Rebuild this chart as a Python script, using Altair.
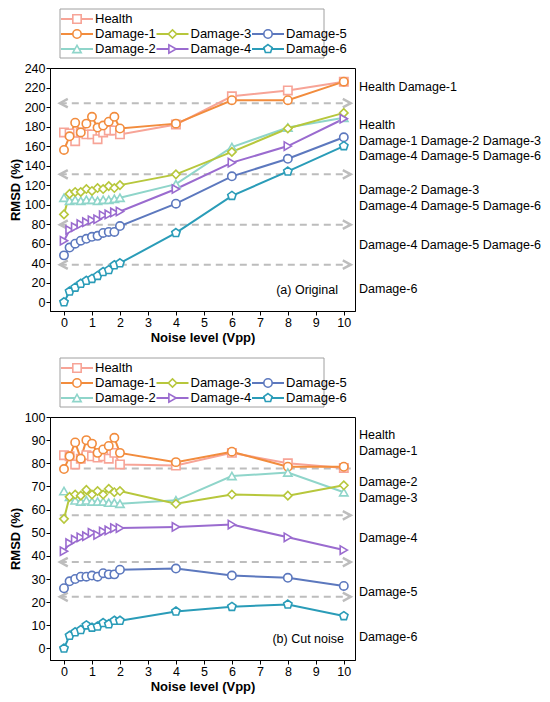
import altair as alt
import pandas as pd

# ---------------- data ----------------
NOISE = [0, 0.2, 0.4, 0.6, 0.8, 1.0, 1.2, 1.4, 1.6, 1.8, 2.0, 4, 6, 8, 10]
SERIES = ["Health", "Damage-1", "Damage-2", "Damage-3", "Damage-4", "Damage-5", "Damage-6"]

ORIG_HEALTH = [174, 173, 165, 174, 172, 172, 167, 174, 176, 176, 172, 182, 211, 217, 226]
ORIG_D1 = [156, 170, 184, 174, 183, 190, 179, 181, 185, 190, 178, 183, 207, 207, 226]
ORIG_D2 = [107, 104, 105, 104, 105, 105, 104, 105, 105, 106, 107, 121, 159, 179, 189]
ORIG_D3 = [90, 111, 113, 113, 116, 114, 117, 116, 119, 117, 120, 131, 154, 178, 194]
ORIG_D4 = [63, 74, 77, 80, 82, 84, 85, 89, 90, 92, 93, 116, 143, 160, 188]
ORIG_D5 = [48, 56, 60, 63, 65, 67, 68, 71, 72, 72, 78, 101, 129, 147, 169]
ORIG_D6 = [0, 11, 15, 19, 22, 24, 27, 31, 33, 38, 40, 71, 109, 134, 160]

CUT_HEALTH = [83.5, 83, 79.5, 82, 83.5, 83, 82.5, 83, 82, 84.5, 79.5, 79, 84.5, 80, 78]
CUT_D1 = [77.5, 83, 89, 82, 90, 88.5, 84.5, 86, 87.5, 91, 84.5, 80.5, 85, 78.5, 78.5]
CUT_D2 = [68, 65.5, 64, 63.5, 64, 63.5, 63.5, 63.5, 63, 63, 62.5, 64, 74.5, 76, 67.5]
CUT_D3 = [56, 65.5, 66.5, 66, 68.5, 66.5, 68, 66.5, 69, 67.5, 68, 62.5, 66.5, 66, 70.5]
CUT_D4 = [42, 45.5, 47, 48, 48.5, 50, 49, 50.5, 51, 52, 52, 52.5, 53.5, 48, 42.5]
CUT_D5 = [26, 29, 30, 31, 31, 31.5, 31, 32.5, 32, 32, 34, 34.5, 31.5, 30.5, 27]
CUT_D6 = [0, 5.5, 7, 8, 10, 9, 9.5, 11, 10.5, 12, 12, 16, 18, 19, 14]

X_TICKS = list(range(0, 11))
Y_TICKS_A = list(range(0, 241, 20))
Y_TICKS_B = list(range(0, 101, 10))

GUIDES_A = [204, 131, 79.5, 38.5]
GUIDES_A_LEFT = [True, True, True, True]
GUIDES_A_RIGHT = [True, True, True, True]
GUIDES_B = [77.7, 57.5, 37.3, 22.3]
GUIDES_B_LEFT = [False, False, True, True]
GUIDES_B_RIGHT = [False, True, True, True]

NOTES_A_TEXT = ["Health Damage-1", "Health", "Damage-1 Damage-2 Damage-3",
                "Damage-4 Damage-5 Damage-6", "Damage-2 Damage-3",
                "Damage-4 Damage-5 Damage-6", "Damage-4 Damage-5 Damage-6", "Damage-6"]
NOTES_A_Y = [220.5, 181.7, 165.5, 150.3, 114.7, 98.5, 58.9, 13.2]
NOTES_B_TEXT = ["Health", "Damage-1", "Damage-2", "Damage-3", "Damage-4", "Damage-5", "Damage-6"]
NOTES_B_Y = [92.3, 85.5, 71.8, 65.0, 47.8, 24.2, 4.9]

COLORS = ["#F7A497", "#F28C3D", "#8FD5CA", "#B7C73C", "#9A6BCF", "#5C78BE", "#2A9CB8"]
PENTAGON = "M0,-1.05L1,-0.33L0.62,0.85L-0.62,0.85L-1,-0.33Z"
SHAPES = ["square", "circle", "triangle-up", "diamond", "triangle-right", "circle", PENTAGON]
LEGEND_COL = [0, 0, 0, 1, 1, 2, 2]
LEGEND_ROW = [0, 1, 2, 1, 2, 1, 2]

LEFT_CHEVRON = "M1.6,-0.85L0,0L1.6,0.85"
RIGHT_CHEVRON = "M-1.6,-0.85L0,0L-1.6,0.85"
FONT = "Liberation Sans"
GUIDE_COLOR = "#BDBDBD"

W, H = 305, 243
MSIZE = 70

cscale = alt.Scale(domain=SERIES, range=COLORS)
sscale = alt.Scale(domain=SERIES, range=SHAPES)


def panel(values, ydom, yticks, guides, gl, gr, notes_t, notes_y, label, label_dx):
    rows = []
    for s, vals in zip(SERIES, values):
        for x, v in zip(NOISE, vals):
            rows.append({"x": x, "v": v, "series": s})
    df = pd.DataFrame(rows)

    xs = alt.Scale(domain=[-0.5, 10.4], nice=False, zero=False)
    ys = alt.Scale(domain=ydom, nice=False, zero=False)
    xaxis = alt.Axis(values=X_TICKS, title="Noise level (Vpp)", format="d")
    yaxis = alt.Axis(values=yticks, title="RMSD (%)", format="d")

    def X(f):
        return alt.X(f, type="quantitative", scale=xs, axis=xaxis)

    def Y(f):
        return alt.Y(f, type="quantitative", scale=ys, axis=yaxis)

    color = alt.Color("series:N", scale=cscale, legend=None)
    stroke = alt.Stroke("series:N", scale=cscale, legend=None)
    shape = alt.Shape("series:N", scale=sscale, legend=None)

    gdf = pd.DataFrame({"v": guides, "x": [-0.15] * len(guides), "x2": [10.25] * len(guides)})
    guide_rules = alt.Chart(gdf).mark_rule(
        strokeDash=[7, 5], strokeWidth=2, color=GUIDE_COLOR
    ).encode(x=X("x"), x2="x2:Q", y=Y("v"))

    ldf = pd.DataFrame({"v": [g for g, f in zip(guides, gl) if f]})
    ldf["x"] = -0.15
    rdf = pd.DataFrame({"v": [g for g, f in zip(guides, gr) if f]})
    rdf["x"] = 10.25
    larrows = alt.Chart(ldf).mark_point(
        shape=LEFT_CHEVRON, size=100, filled=False, stroke=GUIDE_COLOR, strokeWidth=2.4, opacity=1
    ).encode(x=X("x"), y=Y("v"))
    rarrows = alt.Chart(rdf).mark_point(
        shape=RIGHT_CHEVRON, size=100, filled=False, stroke=GUIDE_COLOR, strokeWidth=2.4, opacity=1
    ).encode(x=X("x"), y=Y("v"))

    lines = alt.Chart(df).mark_line(strokeWidth=2).encode(
        x=X("x"), y=Y("v"), color=color, detail="series:N"
    )
    points = alt.Chart(df).mark_point(
        filled=True, fill="white", opacity=1, size=MSIZE, strokeWidth=1.6
    ).encode(x=X("x"), y=Y("v"), stroke=stroke, shape=shape)

    ndf = pd.DataFrame({"t": notes_t, "v": notes_y})
    notes = alt.Chart(ndf).mark_text(
        align="left", baseline="middle", fontSize=12.5, font=FONT, color="black"
    ).encode(x=alt.value(W + 4), y=Y("v"), text="t:N")

    lab = alt.Chart(pd.DataFrame({"t": [label]})).mark_text(
        align="right", baseline="middle", fontSize=12.5, font=FONT, color="black"
    ).encode(x=alt.value(W - label_dx), y=alt.value(H - 21), text="t:N")

    # legend (drawn manually to reproduce the column layout)
    legdf = pd.DataFrame({"series": SERIES, "col": LEGEND_COL, "row": LEGEND_ROW})
    legbase = alt.Chart(legdf).transform_calculate(
        lx="27 + 95.5 * datum.col", ly="-49 + 15 * datum.row"
    ).transform_calculate(
        lx0="datum.lx - 16", lx1="datum.lx + 16", tx="datum.lx + 18"
    )
    box = alt.Chart(pd.DataFrame({"a": [0]})).mark_rect(
        fill="white", stroke="#A0A0A0", strokeWidth=1
    ).encode(x=alt.value(10), x2=alt.value(274), y=alt.value(-59), y2=alt.value(-10))
    leg_lines = legbase.mark_rule(strokeWidth=2).encode(
        x=alt.X("lx0:Q", scale=None), x2="lx1:Q", y=alt.Y("ly:Q", scale=None), color=color
    )
    leg_pts = legbase.mark_point(
        filled=True, fill="white", opacity=1, size=MSIZE, strokeWidth=1.6
    ).encode(x=alt.X("lx:Q", scale=None), y=alt.Y("ly:Q", scale=None), stroke=stroke, shape=shape)
    leg_txt = legbase.mark_text(
        align="left", baseline="middle", fontSize=13, font=FONT, color="black"
    ).encode(x=alt.X("tx:Q", scale=None), y=alt.Y("ly:Q", scale=None), text="series:N")

    return alt.layer(
        guide_rules, larrows, rarrows, lines, points, notes, lab,
        box, leg_lines, leg_pts, leg_txt
    ).properties(width=W, height=H)


top = panel([ORIG_HEALTH, ORIG_D1, ORIG_D2, ORIG_D3, ORIG_D4, ORIG_D5, ORIG_D6],
            [-9, 240], Y_TICKS_A, GUIDES_A, GUIDES_A_LEFT, GUIDES_A_RIGHT,
            NOTES_A_TEXT, NOTES_A_Y, "(a) Original", 17)
bottom = panel([CUT_HEALTH, CUT_D1, CUT_D2, CUT_D3, CUT_D4, CUT_D5, CUT_D6],
               [-5, 100], Y_TICKS_B, GUIDES_B, GUIDES_B_LEFT, GUIDES_B_RIGHT,
               NOTES_B_TEXT, NOTES_B_Y, "(b) Cut noise", 11)

chart = alt.vconcat(top, bottom, spacing=12).properties(padding=0).configure_view(
    stroke="black", strokeWidth=1
).configure_axis(
    labelFont=FONT, labelFontSize=12.5, labelColor="black",
    titleFont=FONT, titleFontSize=13, titleFontWeight="bold", titleColor="black",
    domainColor="black", domainWidth=1, tickColor="black", tickWidth=1,
    tickSize=4, labelPadding=1, grid=False
).configure_axisX(titlePadding=3).configure_axisY(titlePadding=2)

chart.save("out.html", embed_options={"renderer": "svg", "actions": False})
